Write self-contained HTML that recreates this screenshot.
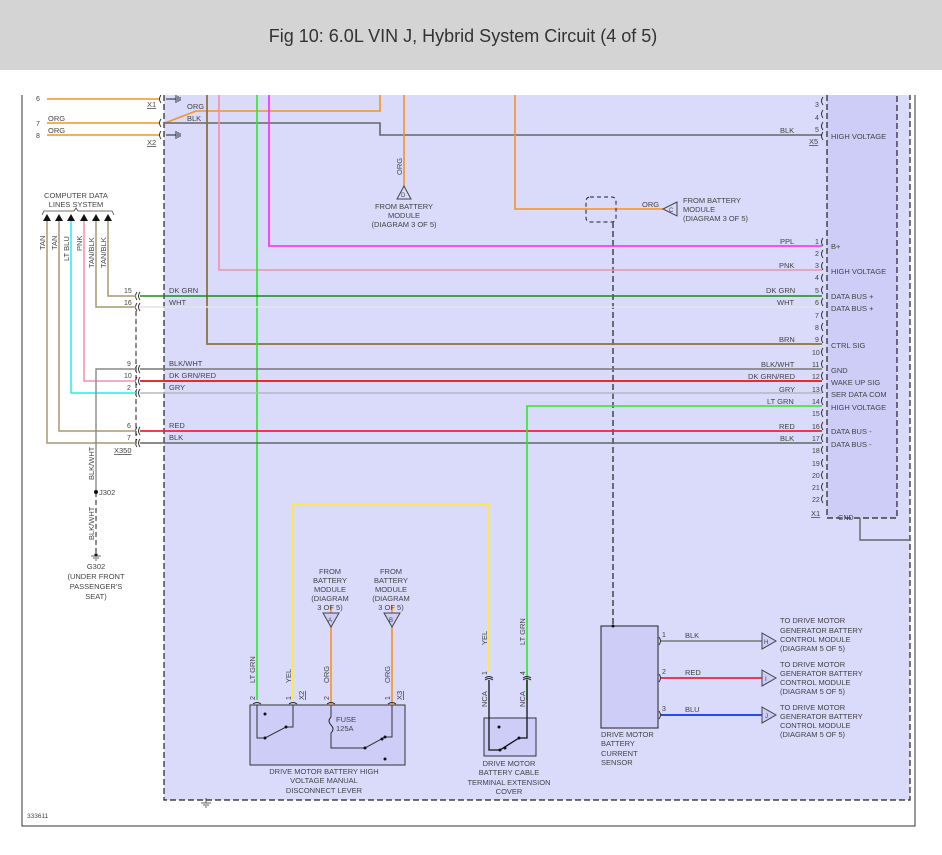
<!DOCTYPE html>
<html><head><meta charset="utf-8"><style>
html,body{margin:0;padding:0;background:#fff;}
svg{display:block;font-family:"Liberation Sans",sans-serif;}
text{fill:#444;font-size:7.5px;}
.n{font-size:7px;}
</style></head><body>
<svg width="942" height="855" viewBox="0 0 942 855" xmlns="http://www.w3.org/2000/svg">
<rect x="0" y="0" width="942" height="70" fill="#d4d4d4"/>
<text x="463" y="42" text-anchor="middle" style="font-size:18px;fill:#333">Fig 10: 6.0L VIN J, Hybrid System Circuit (4 of 5)</text>
<!-- outer frame -->
<path d="M22 95 V826 H915 V95" fill="none" stroke="#333" stroke-width="1"/>
<!-- lavender area -->
<rect x="164" y="95" width="746" height="705" fill="#dadafb"/>
<path d="M164 95 V800 H910 V95" fill="none" stroke="#222" stroke-width="1.2" stroke-dasharray="6,3"/>
<!-- module -->
<rect x="827" y="95" width="70" height="423" fill="#cdcdf8"/>
<path d="M827 95 V518 H897 V95" fill="none" stroke="#222" stroke-width="1.2" stroke-dasharray="6,3"/>
<text x="838" y="520" style="font-size:7px">GND</text>

<!-- top left wires -->
<line x1="47" y1="99" x2="160" y2="99" stroke="#f7931e" stroke-width="1.6"/>
<line x1="47" y1="123" x2="160" y2="123" stroke="#f7931e" stroke-width="1.6"/>
<line x1="47" y1="135" x2="160" y2="135" stroke="#f7931e" stroke-width="1.6"/>
<text x="36" y="101" class="n">6</text><text x="36" y="126" class="n">7</text><text x="36" y="138" class="n">8</text>
<text x="48" y="121">ORG</text><text x="48" y="133">ORG</text>
<text x="147" y="107" style="text-decoration:underline">X1</text>
<text x="147" y="145" style="text-decoration:underline">X2</text>
<g fill="none" stroke="#222" stroke-width="0.9">
<path d="M161 95 q-3 4 0 8 M161 119 q-3 4 0 8 M161 131 q-3 4 0 8"/>
<path d="M166 99 H176 M176 95 V103 M178 96 V102 M180 97 V101 M166 135 H176 M176 131 V139 M178 132 V138 M180 133 V137"/>
</g>
<path d="M165 123 L196 111 H380 V95" fill="none" stroke="#f7931e" stroke-width="1.6"/>
<path d="M165 123 H380 V135 H822" fill="none" stroke="#666" stroke-width="1.6"/>
<text x="187" y="109">ORG</text><text x="187" y="121">BLK</text>
<!-- vertical wires from top -->
<path d="M404 95 V187" stroke="#f7931e" stroke-width="1.6" fill="none"/>
<text transform="translate(402,175) rotate(-90)">ORG</text>
<path d="M397 199 L404 186 L411 199 Z" fill="none" stroke="#444"/>
<text x="401" y="197" style="font-size:6px">D</text>
<text x="404" y="209" text-anchor="middle">FROM BATTERY</text>
<text x="404" y="218" text-anchor="middle">MODULE</text>
<text x="404" y="227" text-anchor="middle">(DIAGRAM 3 OF 5)</text>
<path d="M515 95 V209 H663" stroke="#f7931e" stroke-width="1.6" fill="none"/>
<text x="642" y="207">ORG</text>
<path d="M677 202 L663 209 L677 216 Z" fill="none" stroke="#444"/>
<text x="669" y="212" style="font-size:6px">C</text>
<text x="683" y="203">FROM BATTERY</text><text x="683" y="212">MODULE</text><text x="683" y="221">(DIAGRAM 3 OF 5)</text>
<rect x="586" y="197" width="30" height="25" rx="4" fill="none" stroke="#222" stroke-dasharray="4,3"/>
<path d="M613 222 V627" stroke="#222" stroke-width="1.2" stroke-dasharray="6,3"/>
<path d="M207 95 V344 H822" stroke="#8b7340" stroke-width="1.8" fill="none"/>
<path d="M219 95 V270 H822" stroke="#f48fa8" stroke-width="1.6" fill="none"/>
<path d="M269 95 V246 H822" stroke="#ff22ff" stroke-width="1.6" fill="none"/>
<path d="M257 95 V700" stroke="#22ee22" stroke-width="1.6" fill="none"/>
<!-- horizontal bus rows -->
<line x1="140" y1="296" x2="822" y2="296" stroke="#1a8a1a" stroke-width="1.6"/>
<line x1="140" y1="307" x2="822" y2="307" stroke="#e4e4e4" stroke-width="1.6"/>
<line x1="140" y1="369" x2="822" y2="369" stroke="#777" stroke-width="1.6"/>
<line x1="140" y1="381" x2="822" y2="381" stroke="#ee1111" stroke-width="1.8"/>
<line x1="140" y1="393" x2="822" y2="393" stroke="#b8b8b8" stroke-width="1.6"/>
<line x1="140" y1="431" x2="822" y2="431" stroke="#ee2233" stroke-width="1.8"/>
<line x1="140" y1="443" x2="822" y2="443" stroke="#666" stroke-width="1.6"/>
<path d="M527 700 V406 H822" stroke="#22ee22" stroke-width="1.6" fill="none"/>
<!-- left labels -->
<g>
<text x="169" y="293">DK GRN</text><text x="169" y="305">WHT</text>
<text x="169" y="366">BLK/WHT</text><text x="169" y="378">DK GRN/RED</text><text x="169" y="390">GRY</text>
<text x="169" y="428">RED</text><text x="169" y="440">BLK</text>
<text x="124" y="293" class="n">15</text><text x="124" y="305" class="n">16</text>
<text x="127" y="366" class="n">9</text><text x="124" y="378" class="n">10</text><text x="127" y="390" class="n">2</text>
<text x="127" y="428" class="n">6</text><text x="127" y="440" class="n">7</text>
<text x="114" y="453" style="text-decoration:underline">X350</text>
</g>
<g fill="none" stroke="#222" stroke-width="0.9">
<path d="M137 292 q-3 4 0 8 M140 292 q-3 4 0 8 M137 303 q-3 4 0 8 M140 303 q-3 4 0 8 M137 365 q-3 4 0 8 M140 365 q-3 4 0 8 M137 377 q-3 4 0 8 M140 377 q-3 4 0 8 M137 389 q-3 4 0 8 M140 389 q-3 4 0 8 M137 427 q-3 4 0 8 M140 427 q-3 4 0 8 M137 439 q-3 4 0 8 M140 439 q-3 4 0 8"/>
</g>
<path d="M136 311 V447" stroke="#222" stroke-dasharray="5,3" fill="none"/>
<!-- computer data lines -->
<text x="76" y="198" text-anchor="middle">COMPUTER DATA</text>
<text x="76" y="207" text-anchor="middle">LINES SYSTEM</text>
<path d="M42 215 L44 211 H74 L76 208 L78 211 H112 L114 215" fill="none" stroke="#444" stroke-width="0.8"/>
<g fill="#111">
<path d="M43 221 L47 214 L51 221Z M55 221 L59 214 L63 221Z M67 221 L71 214 L75 221Z M80 221 L84 214 L88 221Z M92 221 L96 214 L100 221Z M104 221 L108 214 L112 221Z"/>
</g>
<path d="M47 221 V443 H136" stroke="#a89870" stroke-width="1.5" fill="none"/>
<path d="M59 221 V431 H136" stroke="#a89870" stroke-width="1.5" fill="none"/>
<path d="M71 221 V393 H136" stroke="#22eeee" stroke-width="1.5" fill="none"/>
<path d="M84 221 V381 H136" stroke="#f48fa8" stroke-width="1.5" fill="none"/>
<path d="M96 221 V307 H136" stroke="#a89870" stroke-width="1.5" fill="none"/>
<path d="M108 221 V296 H136" stroke="#a89870" stroke-width="1.5" fill="none"/>
<text transform="translate(45,250) rotate(-90)">TAN</text>
<text transform="translate(57,250) rotate(-90)">TAN</text>
<text transform="translate(69,261) rotate(-90)">LT BLU</text>
<text transform="translate(82,251) rotate(-90)">PNK</text>
<text transform="translate(94,268) rotate(-90)">TAN/BLK</text>
<text transform="translate(106,268) rotate(-90)">TAN/BLK</text>
<!-- J302 -->
<path d="M136 369 H96 V492" stroke="#888" stroke-width="1.4" fill="none"/>
<path d="M96 492 V555" stroke="#444" stroke-width="1.2" stroke-dasharray="5,3" fill="none"/>
<circle cx="96" cy="492" r="2" fill="#111"/>
<text x="99" y="495">J302</text>
<text transform="translate(94,480) rotate(-90)">BLK/WHT</text>
<text transform="translate(94,540) rotate(-90)">BLK/WHT</text>
<circle cx="96" cy="555" r="1.6" fill="#111"/>
<path d="M91 556 H101 M93 558 H99 M95 560 H97" stroke="#333" stroke-width="0.8"/>
<text x="96" y="569" text-anchor="middle">G302</text>
<text x="96" y="579" text-anchor="middle">(UNDER FRONT</text>
<text x="96" y="589" text-anchor="middle">PASSENGER'S</text>
<text x="96" y="599" text-anchor="middle">SEAT)</text>
<!-- right module pins -->
<g class="n">
<text x="815" y="107" class="n">3</text><text x="815" y="120" class="n">4</text><text x="815" y="132" class="n">5</text>
<text x="809" y="144" style="text-decoration:underline">X5</text>
<text x="815" y="244" class="n">1</text><text x="815" y="256" class="n">2</text><text x="815" y="268" class="n">3</text><text x="815" y="280" class="n">4</text>
<text x="815" y="293" class="n">5</text><text x="815" y="305" class="n">6</text><text x="815" y="318" class="n">7</text><text x="815" y="330" class="n">8</text>
<text x="815" y="342" class="n">9</text><text x="812" y="355" class="n">10</text><text x="812" y="367" class="n">11</text><text x="812" y="379" class="n">12</text>
<text x="812" y="392" class="n">13</text><text x="812" y="404" class="n">14</text><text x="812" y="416" class="n">15</text><text x="812" y="429" class="n">16</text>
<text x="812" y="441" class="n">17</text><text x="812" y="453" class="n">18</text><text x="812" y="466" class="n">19</text><text x="812" y="478" class="n">20</text>
<text x="812" y="490" class="n">21</text><text x="812" y="502" class="n">22</text>
<text x="811" y="516" style="text-decoration:underline">X1</text>
</g>
<g fill="none" stroke="#222" stroke-width="0.9">
<path d="M823 97 q-3 4 0 8 M823 110 q-3 4 0 8 M823 122 q-3 4 0 8 M823 132 q-3 4 0 8
M823 238 q-3 4 0 8 M823 250 q-3 4 0 8 M823 262 q-3 4 0 8 M823 274 q-3 4 0 8 M823 286 q-3 4 0 8 M823 298 q-3 4 0 8 M823 311 q-3 4 0 8 M823 323 q-3 4 0 8 M823 335 q-3 4 0 8 M823 348 q-3 4 0 8 M823 360 q-3 4 0 8 M823 372 q-3 4 0 8 M823 385 q-3 4 0 8 M823 397 q-3 4 0 8 M823 409 q-3 4 0 8 M823 422 q-3 4 0 8 M823 434 q-3 4 0 8 M823 446 q-3 4 0 8 M823 459 q-3 4 0 8 M823 471 q-3 4 0 8 M823 483 q-3 4 0 8 M823 495 q-3 4 0 8"/>
</g>
<g>
<text x="780" y="133">BLK</text><text x="780" y="244">PPL</text><text x="779" y="268">PNK</text>
<text x="766" y="293">DK GRN</text><text x="777" y="305">WHT</text><text x="779" y="342">BRN</text>
<text x="761" y="367">BLK/WHT</text><text x="748" y="379">DK GRN/RED</text><text x="779" y="392">GRY</text>
<text x="767" y="404">LT GRN</text><text x="779" y="429">RED</text><text x="780" y="441">BLK</text>
<text x="831" y="139">HIGH VOLTAGE</text><text x="831" y="249">B+</text><text x="831" y="274">HIGH VOLTAGE</text>
<text x="831" y="299">DATA BUS +</text><text x="831" y="311">DATA BUS +</text><text x="831" y="348">CTRL SIG</text>
<text x="831" y="373">GND</text><text x="831" y="385">WAKE UP SIG</text><text x="831" y="397">SER DATA COM</text>
<text x="831" y="410">HIGH VOLTAGE</text><text x="831" y="434">DATA BUS -</text><text x="831" y="447">DATA BUS -</text>
</g>
<path d="M860 518 V540 H910" stroke="#666" stroke-width="1.4" fill="none"/>
<!-- yellow -->
<path d="M293 700 V504 H489 V672" stroke="#ffee22" stroke-width="1.6" fill="none"/>
<!-- lever -->
<rect x="250" y="705" width="155" height="60" fill="#cdcdf8" stroke="#333"/>
<path d="M257 705 H393" stroke="#333" stroke-dasharray="5,3"/>
<path d="M331 605 V705 M392 605 V705" stroke="#f7931e" stroke-width="1.6"/>
<path d="M257 705 V738 H265 L286 727 H293 V705" stroke="#333" fill="none"/>
<path d="M331 705 V717 q-4 4 0 8 q4 4 0 8 V748 H365 L385 737 H392 V705" stroke="#333" fill="none"/>
<g fill="#111"><circle cx="265" cy="714" r="1.5"/><circle cx="265" cy="738" r="1.5"/><circle cx="286" cy="727" r="1.5"/><circle cx="365" cy="748" r="1.5"/><circle cx="382" cy="739" r="1.5"/><circle cx="385" cy="737" r="1.5"/><circle cx="385" cy="759" r="1.5"/></g>
<text x="336" y="722">FUSE</text><text x="336" y="731">125A</text>
<g fill="none" stroke="#222" stroke-width="0.9"><path d="M253 704 q4 -3 8 0 M289 704 q4 -3 8 0 M327 704 q4 -3 8 0 M388 704 q4 -3 8 0"/></g>
<text transform="translate(255,700) rotate(-90)" class="n">2</text>
<text transform="translate(291,700) rotate(-90)" class="n">1</text>
<text transform="translate(329,700) rotate(-90)" class="n">2</text>
<text transform="translate(390,700) rotate(-90)" class="n">1</text>
<text transform="translate(304,700) rotate(-90)" style="text-decoration:underline">X2</text>
<text transform="translate(402,700) rotate(-90)" style="text-decoration:underline">X3</text>
<text transform="translate(255,683) rotate(-90)">LT GRN</text>
<text transform="translate(291,683) rotate(-90)">YEL</text>
<text transform="translate(329,683) rotate(-90)">ORG</text>
<text transform="translate(390,683) rotate(-90)">ORG</text>
<path d="M323 613 H339 L331 627 Z M384 613 H400 L392 627 Z" fill="#cdcdf8" stroke="#444"/>
<text x="328" y="622" style="font-size:6px">A</text><text x="389" y="622" style="font-size:6px">B</text>
<g text-anchor="middle">
<text x="330" y="574">FROM</text><text x="330" y="583">BATTERY</text><text x="330" y="592">MODULE</text><text x="330" y="601">(DIAGRAM</text><text x="330" y="610">3 OF 5)</text>
<text x="391" y="574">FROM</text><text x="391" y="583">BATTERY</text><text x="391" y="592">MODULE</text><text x="391" y="601">(DIAGRAM</text><text x="391" y="610">3 OF 5)</text>
<text x="324" y="774">DRIVE MOTOR BATTERY HIGH</text><text x="324" y="783">VOLTAGE MANUAL</text><text x="324" y="793">DISCONNECT LEVER</text>
</g>
<!-- cover -->
<rect x="484" y="718" width="52" height="38" fill="#cdcdf8" stroke="#333"/>
<path d="M489 680 V750 H500 L519 738 H527 V680" stroke="#111" stroke-width="1.3" fill="none"/>
<g fill="#111"><circle cx="499" cy="727" r="1.5"/><circle cx="500" cy="750" r="1.5"/><circle cx="505" cy="748" r="1.5"/><circle cx="519" cy="738" r="1.5"/></g>
<g fill="none" stroke="#222" stroke-width="0.9"><path d="M485 680 q4 -3 8 0 M523 680 q4 -3 8 0 M485 678 q4 -3 8 0 M523 678 q4 -3 8 0"/></g>
<text transform="translate(487,675) rotate(-90)" class="n">1</text>
<text transform="translate(525,675) rotate(-90)" class="n">4</text>
<text transform="translate(487,645) rotate(-90)">YEL</text>
<text transform="translate(525,645) rotate(-90)">LT GRN</text>
<text transform="translate(487,707) rotate(-90)">NCA</text>
<text transform="translate(525,707) rotate(-90)">NCA</text>
<g text-anchor="middle"><text x="509" y="766">DRIVE MOTOR</text><text x="509" y="775">BATTERY CABLE</text><text x="509" y="785">TERMINAL EXTENSION</text><text x="509" y="794">COVER</text></g>
<!-- sensor -->
<rect x="601" y="626" width="57" height="102" fill="#cdcdf8" stroke="#222"/>
<circle cx="613" cy="626" r="1.5" fill="#111"/>
<text x="601" y="737">DRIVE MOTOR</text><text x="601" y="746">BATTERY</text><text x="601" y="756">CURRENT</text><text x="601" y="765">SENSOR</text>
<line x1="661" y1="641" x2="762" y2="641" stroke="#777" stroke-width="1.5"/>
<line x1="661" y1="678" x2="762" y2="678" stroke="#ee2233" stroke-width="1.8"/>
<line x1="661" y1="715" x2="762" y2="715" stroke="#1133ee" stroke-width="1.8"/>
<g fill="none" stroke="#222" stroke-width="0.9"><path d="M659 637 q3 4 0 8 M659 674 q3 4 0 8 M659 711 q3 4 0 8"/></g>
<text x="662" y="637" class="n">1</text><text x="662" y="674" class="n">2</text><text x="662" y="711" class="n">3</text>
<text x="685" y="638">BLK</text><text x="685" y="675">RED</text><text x="685" y="712">BLU</text>
<path d="M762 633 L776 641 L762 649 Z M762 670 L776 678 L762 686 Z M762 707 L776 715 L762 723 Z" fill="#cdcdf8" stroke="#444"/>
<text x="764" y="644" style="font-size:6px">H</text><text x="765" y="681" style="font-size:6px">I</text><text x="765" y="718" style="font-size:6px">J</text>
<g>
<text x="780" y="623">TO DRIVE MOTOR</text><text x="780" y="633">GENERATOR BATTERY</text><text x="780" y="642">CONTROL MODULE</text><text x="780" y="651">(DIAGRAM 5 OF 5)</text>
<text x="780" y="667">TO DRIVE MOTOR</text><text x="780" y="676">GENERATOR BATTERY</text><text x="780" y="685">CONTROL MODULE</text><text x="780" y="694">(DIAGRAM 5 OF 5)</text>
<text x="780" y="710">TO DRIVE MOTOR</text><text x="780" y="719">GENERATOR BATTERY</text><text x="780" y="728">CONTROL MODULE</text><text x="780" y="737">(DIAGRAM 5 OF 5)</text>
</g>
<!-- bottom ground -->
<path d="M206 798 V803 M201 803 H211 M203 805 H209 M205 807 H207" stroke="#333" stroke-width="0.8"/>
<text x="27" y="818" style="font-size:6.5px">333611</text>
</svg>
</body></html>
